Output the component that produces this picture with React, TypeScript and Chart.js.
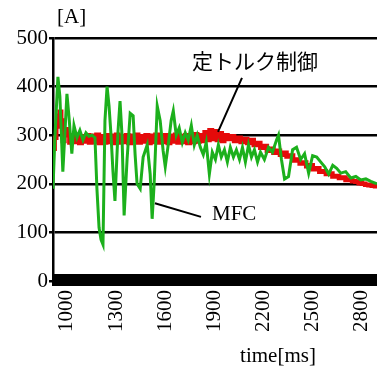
import React, { useEffect, useRef } from 'react';
import { Chart, registerables } from 'chart.js';

Chart.register(...registerables);

// ---- data ----
const xTickValues = [1000, 1300, 1600, 1900, 2200, 2500, 2800];
const yTickValues = [0, 100, 200, 300, 400, 500];
const xMin = 915;
const xMax = 2892;

const mfcName = 'MFC';
const torqueName = '定トルク制御';
const xTitle = 'time[ms]';
const yTitle = '[A]';

const greenTimes = [
  915, 926, 945, 957, 975, 987, 1000, 1012, 1030, 1043, 1061, 1079, 1098, 1116, 1134, 1153, 1171, 1183,
  1196, 1208, 1220, 1232, 1245, 1257, 1269, 1281, 1293, 1312, 1324, 1336, 1349, 1367, 1386, 1404, 1416,
  1428, 1447, 1465, 1490, 1508, 1520, 1532, 1551, 1569, 1587, 1600, 1618, 1636, 1649, 1667, 1685, 1704,
  1722, 1740, 1759, 1777, 1795, 1814, 1832, 1850, 1869, 1887, 1906, 1924, 1942, 1961, 1979, 1997, 2016,
  2034, 2053, 2071, 2089, 2108, 2126, 2144, 2163, 2181, 2205, 2230, 2254, 2279, 2291, 2309, 2328, 2352,
  2377, 2401, 2426, 2450, 2475, 2499, 2524, 2548, 2573, 2597, 2622, 2646, 2671, 2701, 2732, 2763, 2793,
  2824, 2854, 2892,
];
const greenValues = [
  190, 290, 420, 380, 225, 300, 385, 340, 262, 320, 295, 310, 290, 305, 298, 300, 295, 190,
  110, 85, 75, 330, 400, 360, 300, 225, 165, 310, 370, 300, 135, 250, 345, 340, 260,
  200, 190, 255, 280, 220, 128, 200, 360, 330, 268, 235, 280, 330, 350, 300, 315, 285,
  305, 290, 320, 280, 300, 275, 260, 285, 220, 265, 250, 280, 255, 270, 245, 275, 255,
  270, 250, 275, 245, 280, 255, 270, 245, 265, 250, 275, 265, 290, 300, 250, 210, 215,
  270, 275, 250, 262, 222, 258, 255, 245, 235, 220, 238, 232, 222, 225, 212, 215, 208,
  210, 205, 200,
];

const redTimes = [
  915, 925, 935, 945, 955, 965, 975, 985, 1000, 1015, 1030, 1045, 1060, 1075, 1090, 1105, 1120, 1135,
  1150, 1165, 1180, 1195, 1210, 1225, 1240, 1255, 1270, 1285, 1300, 1315, 1330, 1345, 1360, 1375, 1390,
  1405, 1420, 1435, 1450, 1465, 1480, 1495, 1510, 1525, 1540, 1555, 1570, 1585, 1600, 1615, 1630, 1645,
  1660, 1675, 1690, 1705, 1720, 1735, 1750, 1765, 1780, 1795, 1810, 1825, 1840, 1855, 1870, 1885, 1900,
  1915, 1930, 1945, 1960, 1980, 2000, 2020, 2040, 2060, 2080, 2100, 2120, 2140, 2160, 2180, 2200, 2220,
  2240, 2260, 2280, 2300, 2320, 2340, 2360, 2380, 2400, 2420, 2440, 2460, 2480, 2500, 2520, 2540, 2560,
  2580, 2600, 2620, 2640, 2660, 2680, 2700, 2720, 2740, 2760, 2780, 2800, 2820, 2840, 2860, 2880, 2892,
];
const redValues = [
  272, 295, 318, 340, 348, 330, 288, 312, 300, 285, 299, 286, 301, 284, 298, 287, 300, 285,
  299, 286, 301, 284, 298, 285, 300, 286, 299, 284, 301, 285, 298, 286, 300, 284, 299,
  286, 301, 285, 298, 287, 300, 284, 299, 286, 301, 285, 298, 286, 300, 284, 299, 287,
  301, 285, 298, 286, 300, 284, 299, 286, 302, 287, 300, 288, 306, 290, 310, 292, 308,
  290, 304, 288, 300, 292, 298, 288, 295, 286, 292, 284, 290, 280, 284, 274, 278, 268,
  272, 264, 268, 260, 264, 256, 258, 248, 250, 242, 244, 236, 238, 230, 232, 225, 226,
  220, 221, 215, 216, 212, 213, 208, 209, 205, 204, 201, 200, 198, 197, 196, 195, 195,
];

// annotation anchors in data units
const torqueLabelAt = { t: 2147, v: 453 };
const torqueLineFrom = { t: 2068, v: 418 };
const torqueLineTo = { t: 1922, v: 307 };
const mfcLabelAt = { t: 1885, v: 136 };
const mfcLineFrom = { t: 1537, v: 160 };
const mfcLineTo = { t: 1818, v: 132 };

const GREEN = '#1cb01c';
const RED = '#e50a0a';
const SERIF = '"Liberation Serif", "Times New Roman", "DejaVu Serif", serif';
const CJK = '"Noto Sans CJK JP", "Noto Sans", sans-serif';

const toPoints = (ts: number[], vs: number[]) => ts.map((t, i) => ({ x: t, y: vs[i] }));

const annotationPlugin = {
  id: 'annotations',
  afterDraw(chart: any) {
    const { ctx, scales, chartArea } = chart;
    const xs = scales.x;
    const ys = scales.y;
    const px = (t: number) => xs.getPixelForValue(t);
    const py = (v: number) => ys.getPixelForValue(v);
    ctx.save();
    // thick zero axis bar
    ctx.fillStyle = '#000';
    const y0 = py(0);
    ctx.fillRect(chartArea.left - 1, y0 - 7, chartArea.right - chartArea.left + 1, 12);

    // pointer lines
    ctx.strokeStyle = '#000';
    ctx.lineWidth = 2;
    ctx.beginPath();
    ctx.moveTo(px(torqueLineFrom.t), py(torqueLineFrom.v));
    ctx.lineTo(px(torqueLineTo.t), py(torqueLineTo.v));
    ctx.moveTo(px(mfcLineFrom.t), py(mfcLineFrom.v));
    ctx.lineTo(px(mfcLineTo.t), py(mfcLineTo.v));
    ctx.stroke();

    ctx.fillStyle = '#000';
    ctx.textBaseline = 'middle';
    ctx.textAlign = 'center';
    ctx.font = `21px ${CJK}`;
    ctx.fillText(torqueName, px(torqueLabelAt.t), py(torqueLabelAt.v));
    ctx.textAlign = 'left';
    ctx.font = `21px ${SERIF}`;
    ctx.fillText(mfcName, px(mfcLabelAt.t), py(mfcLabelAt.v));

    // axis titles
    ctx.textAlign = 'left';
    ctx.textBaseline = 'alphabetic';
    ctx.fillText(yTitle, chartArea.left + 4, chartArea.top - 15);
    ctx.textAlign = 'center';
    ctx.fillText(xTitle, 278, chart.height - 9);
    ctx.restore();
  },
};

export default function App() {
  const canvasRef = useRef<HTMLCanvasElement | null>(null);

  useEffect(() => {
    if (!canvasRef.current) return;
    const chart = new Chart(canvasRef.current, {
      type: 'line',
      data: {
        datasets: [
          {
            label: mfcName,
            data: toPoints(greenTimes, greenValues),
            borderColor: GREEN,
            borderWidth: 3,
            pointRadius: 0,
            tension: 0,
            fill: false,
          },
          {
            label: torqueName,
            data: toPoints(redTimes, redValues),
            borderColor: RED,
            borderWidth: 4.5,
            pointRadius: 0,
            stepped: true,
            fill: false,
          },
        ],
      },
      options: {
        responsive: false,
        animation: false,
        events: [],
        layout: { padding: { top: 38, right: 0, left: 0, bottom: 0 } },
        plugins: {
          legend: { display: false },
          tooltip: { enabled: false },
          title: { display: false },
        },
        scales: {
          x: {
            type: 'linear',
            min: xMin,
            max: xMax,
            afterBuildTicks: (s: any) => {
              s.ticks = xTickValues.map((v) => ({ value: v }));
            },
            afterFit: (s: any) => {
              s.height = 90;
              s.paddingLeft = 0;
              s.paddingRight = 0;
            },
            grid: { display: false, drawTicks: false },
            border: { display: false },
            ticks: {
              autoSkip: false,
              minRotation: 90,
              maxRotation: 90,
              padding: 9,
              color: '#000',
              font: { family: SERIF, size: 21 },
              callback: (v: any) => String(v),
            },
          },
          y: {
            type: 'linear',
            min: 0,
            max: 500,
            afterBuildTicks: (s: any) => {
              s.ticks = yTickValues.map((v) => ({ value: v }));
            },
            afterFit: (s: any) => {
              s.width = 53;
              s.paddingTop = 0;
              s.paddingBottom = 0;
            },
            grid: { color: '#000', lineWidth: 2.5, tickLength: 4, drawTicks: true },
            border: { display: true, color: '#000', width: 2.5 },
            ticks: {
              padding: 1,
              color: '#000',
              font: { family: SERIF, size: 21 },
              callback: (v: any) => String(v),
            },
          },
        },
      },
      plugins: [annotationPlugin],
    });
    return () => chart.destroy();
  }, []);

  return (
    <div style={{ position: 'absolute', left: 0, top: 0, width: 377, height: 371, background: '#fff' }}>
      <canvas ref={canvasRef} width={377} height={371} />
    </div>
  );
}
